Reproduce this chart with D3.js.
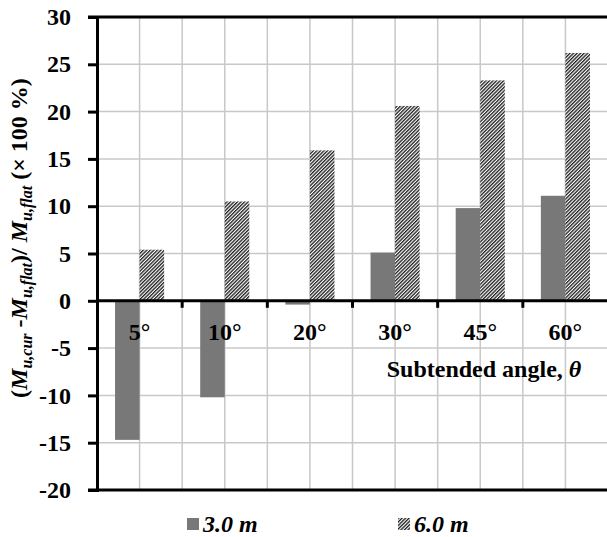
<!DOCTYPE html>
<html>
<head>
<meta charset="utf-8">
<script src="https://cdn.jsdelivr.net/npm/d3@7"></script>
<style>
  html, body { margin: 0; padding: 0; background: #fff; }
  svg { display: block; }
  text { font-family: "Liberation Serif", "Times New Roman", serif; font-weight: bold; }
</style>
</head>
<body>
<svg id="chart" width="607" height="537"></svg>
<script>
// ---- data ----
const categories = ["5°", "10°", "20°", "30°", "45°", "60°"];
const seriesNames = ["3.0 m", "6.0 m"];
const values30 = [-14.7, -10.2, -0.4, 5.1, 9.8, 11.1];
const values60 = [5.4, 10.5, 15.9, 20.6, 23.3, 26.2];
const yTicks = [-20, -15, -10, -5, 0, 5, 10, 15, 20, 25, 30];

(function () {
const svg = d3.select("#chart");
const pLeft = 97, pRight = 608, pTop = 17, pBottom = 490;
const fs = 24;

const x0 = d3.scaleBand().domain(categories).range([pLeft, pRight])
  .paddingInner(0.4235).paddingOuter(0.4235 / 2);
const x1 = d3.scaleBand().domain(seriesNames).range([0, x0.bandwidth()]);
const y = d3.scaleLinear().domain([-20, 30]).range([pBottom, pTop]);
const step = x0.step();

// hatch pattern
const defs = svg.append("defs");
const pat = defs.append("pattern").attr("id", "hatch")
  .attr("patternUnits", "userSpaceOnUse")
  .attr("width", 2.5).attr("height", 2.5)
  .attr("patternTransform", "rotate(45)");
pat.append("rect").attr("width", 2.5).attr("height", 2.5).attr("fill", "#fff");
pat.append("rect").attr("width", 1.35).attr("height", 2.5).attr("fill", "#222");

// gridlines
const gridColor = "#c8c8c8";
const vGrid = [];
categories.forEach((c, i) => {
  const start = x0(c) - (step - x0.bandwidth()) / 2;
  vGrid.push(start + step / 2);
  if (i < categories.length - 1) vGrid.push(start + step);
});
svg.append("g").selectAll("line").data(vGrid).join("line")
  .attr("x1", d => d).attr("x2", d => d)
  .attr("y1", pTop).attr("y2", pBottom)
  .attr("stroke", gridColor).attr("stroke-width", 1.5);
svg.append("g").selectAll("line").data(yTicks.filter(t => t !== 0 && t !== -20 && t !== 30)).join("line")
  .attr("x1", pLeft).attr("x2", pRight)
  .attr("y1", d => y(d)).attr("y2", d => y(d))
  .attr("stroke", gridColor).attr("stroke-width", 1.5);

// bars
const rows = categories.map((c, i) => ({ cat: c, vals: [values30[i], values60[i]] }));
const g = svg.append("g");
rows.forEach(r => {
  r.vals.forEach((v, j) => {
    g.append("rect")
      .attr("x", x0(r.cat) + x1(seriesNames[j]))
      .attr("width", x1.bandwidth())
      .attr("y", y(Math.max(0, v)))
      .attr("height", Math.abs(y(v) - y(0)))
      .attr("fill", j === 0 ? "#787878" : "url(#hatch)");
  });
});

// axes
const axisColor = "#000";
const yAxis = d3.axisLeft(y).tickValues(yTicks).tickSize(9).tickPadding(17).tickFormat(d3.format("d"));
const ya = svg.append("g").attr("transform", `translate(${pLeft},0)`).call(yAxis);
ya.select(".domain").attr("stroke", axisColor).attr("stroke-width", 3);
ya.selectAll(".tick line").attr("stroke", axisColor).attr("stroke-width", 3);
ya.selectAll(".tick text").attr("font-size", fs).attr("fill", "#000");
ya.selectAll(".tick text").text(d => d < 0 ? "-" + Math.abs(d) : d);

// top and bottom border lines
svg.append("line").attr("x1", pLeft - 9).attr("x2", pRight).attr("y1", pTop).attr("y2", pTop)
  .attr("stroke", axisColor).attr("stroke-width", 3);
svg.append("line").attr("x1", pLeft - 9).attr("x2", pRight).attr("y1", pBottom).attr("y2", pBottom)
  .attr("stroke", axisColor).attr("stroke-width", 3);

// zero axis with category ticks
const xa = svg.append("g").attr("transform", `translate(0,${y(0)})`);
xa.append("line").attr("x1", pLeft).attr("x2", pRight).attr("y1", 0).attr("y2", 0)
  .attr("stroke", axisColor).attr("stroke-width", 3);
const bounds = categories.slice(1).map(c => x0(c) - (step - x0.bandwidth()) / 2);
xa.selectAll("line.tk").data(bounds).join("line").attr("class", "tk")
  .attr("x1", d => d).attr("x2", d => d).attr("y1", 0).attr("y2", 7)
  .attr("stroke", axisColor).attr("stroke-width", 3);
xa.selectAll("text.cat").data(categories).join("text").attr("class", "cat")
  .attr("x", d => x0(d) + x0.bandwidth() / 2)
  .attr("y", 39)
  .attr("text-anchor", "middle").attr("font-size", fs).text(d => d);

// x axis title
const xt = svg.append("text").attr("x", 484).attr("y", 377).attr("text-anchor", "middle")
  .attr("font-size", fs);
xt.append("tspan").text("Subtended angle, ");
xt.append("tspan").attr("font-style", "italic").text("θ");

// y axis title
const yt = svg.append("text").attr("transform", "translate(27,238) rotate(-90)")
  .attr("text-anchor", "middle").attr("font-size", fs);
const sub = (t) => { yt.append("tspan").attr("font-style", "italic").attr("font-size", 16).attr("dy", 5).text(t); };
yt.append("tspan").text("(");
yt.append("tspan").attr("font-style", "italic").text("M");
sub("u,cur");
yt.append("tspan").attr("dy", -5).text(" -");
yt.append("tspan").attr("font-style", "italic").text("M");
sub("u,flat");
yt.append("tspan").attr("dy", -5).text(")/ ");
yt.append("tspan").attr("font-style", "italic").text("M");
sub("u,flat");
yt.append("tspan").attr("dy", -5).text(" (× 100 %)");

// legend
const leg = svg.append("g");
const legItems = [
  { name: seriesNames[0], fill: "#787878", x: 187 },
  { name: seriesNames[1], fill: "url(#hatch)", x: 398 }
];
legItems.forEach(it => {
  leg.append("rect").attr("x", it.x).attr("y", 518).attr("width", 12).attr("height", 12).attr("fill", it.fill);
  leg.append("text").attr("x", it.x + 16).attr("y", 532).attr("font-size", fs)
    .attr("font-style", "italic").text(it.name);
});
})();
</script>
</body>
</html>
